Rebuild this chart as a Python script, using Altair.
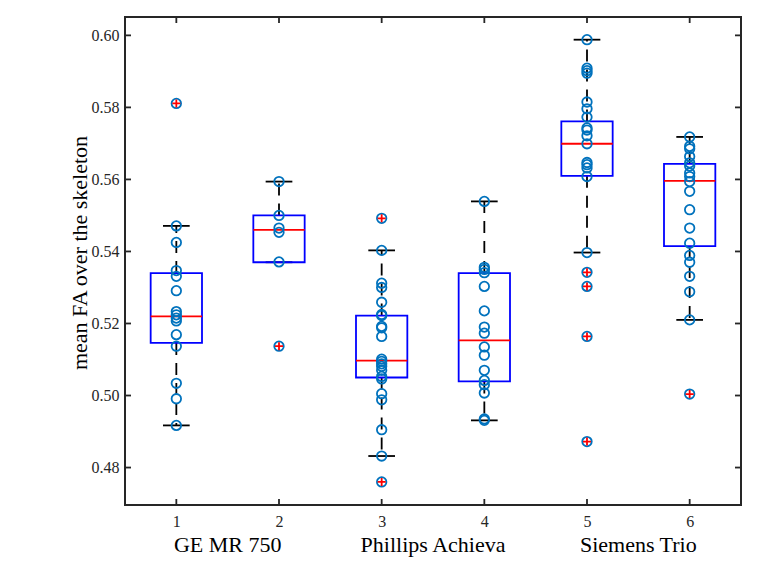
import altair as alt
import pandas as pd

# ---- data ----
positions = [1, 2, 3, 4, 5, 6]
g1 = [0.5811, 0.5471, 0.5425, 0.5347, 0.5331, 0.5291, 0.5233, 0.5224, 0.5215, 0.5207, 0.5169, 0.5137, 0.5034, 0.4991, 0.4917]
g2 = [0.5594, 0.5500, 0.5465, 0.5453, 0.5371, 0.5137]
g3 = [0.5492, 0.5403, 0.5312, 0.5300, 0.5259, 0.5225, 0.5222, 0.5192, 0.5188, 0.5164, 0.5101, 0.5095, 0.5088, 0.5081, 0.5070, 0.5053, 0.5046, 0.5005, 0.4988, 0.4905, 0.4832, 0.4760]
g4 = [0.5539, 0.5356, 0.5350, 0.5341, 0.5303, 0.5235, 0.5190, 0.5173, 0.5135, 0.5112, 0.5070, 0.5042, 0.5030, 0.5007, 0.4935, 0.4931]
g5 = [0.5988, 0.5909, 0.5902, 0.5895, 0.5815, 0.5796, 0.5773, 0.5743, 0.5737, 0.5721, 0.5699, 0.5647, 0.5641, 0.5632, 0.5608, 0.5397, 0.5342, 0.5303, 0.5164, 0.4872]
g6 = [0.5718, 0.5692, 0.5685, 0.5664, 0.5646, 0.5637, 0.5618, 0.5608, 0.5594, 0.5567, 0.5516, 0.5465, 0.5423, 0.5389, 0.5370, 0.5331, 0.5288, 0.5210, 0.5004]

q1 = [0.5146, 0.5370, 0.5050, 0.5039, 0.5610, 0.5415]
median = [0.5220, 0.5460, 0.5097, 0.5153, 0.5699, 0.5596]
q3 = [0.5340, 0.5500, 0.5222, 0.5340, 0.5761, 0.5643]
whisker_low = [0.4917, 0.5370, 0.4832, 0.4931, 0.5397, 0.5210]
whisker_high = [0.5471, 0.5594, 0.5403, 0.5539, 0.5988, 0.5718]

outlier_group = [1, 2, 3, 3, 5, 5, 5, 5, 6]
outlier_value = [0.5811, 0.5137, 0.5492, 0.4760, 0.5342, 0.5303, 0.5164, 0.4872, 0.5004]

x_ticks = [1, 2, 3, 4, 5, 6]
y_ticks = [0.48, 0.50, 0.52, 0.54, 0.56, 0.58, 0.60]

scanner_names = ["GE MR 750", "Phillips Achieva", "Siemens Trio"]
scanner_centers = [1.5, 3.5, 5.5]
y_title = "mean FA over the skeleton"

# ---- layout ----
W, H = 616, 488
FONT = "Liberation Serif"
BOX_HALF = 0.25
CAP_HALF = 0.13

groups = [g1, g2, g3, g4, g5, g6]
pts = pd.DataFrame([{"pos": p, "v": v} for p, g in zip(positions, groups) for v in g])
box = pd.DataFrame({"pos": positions, "q1": q1, "med": median, "q3": q3,
                    "lo": whisker_low, "hi": whisker_high})
box["left"] = box["pos"] - BOX_HALF
box["right"] = box["pos"] + BOX_HALF
box["capl"] = box["pos"] - CAP_HALF
box["capr"] = box["pos"] + CAP_HALF
outs = pd.DataFrame({"pos": outlier_group, "v": outlier_value})
labels = pd.DataFrame({"x": scanner_centers, "t": scanner_names})
xt = pd.DataFrame({"v": x_ticks})
yt = pd.DataFrame({"v": y_ticks})

xs = alt.Scale(domain=[0.5, 6.5], nice=False, zero=False)
ys = alt.Scale(domain=[0.4696, 0.6051], nice=False, zero=False)
XA = alt.Axis(values=x_ticks, title=None, grid=False, domain=False, ticks=False,
              labelFont=FONT, labelFontSize=16, labelColor="#262626", labelPadding=8, format="d")
YA = alt.Axis(values=y_ticks, title=None, grid=False, domain=False, ticks=False,
              labelFont=FONT, labelFontSize=16, labelColor="#262626", labelPadding=6, format=".2f")


def X(f):
    return alt.X(f, type="quantitative", scale=xs, axis=XA)


def Y(f):
    return alt.Y(f, type="quantitative", scale=ys, axis=YA)


whisk_hi = alt.Chart(box).mark_rule(color="black", strokeWidth=1.8, strokeDash=[12, 8]).encode(
    x=X("pos"), y=Y("q3"), y2="hi")
whisk_lo = alt.Chart(box).mark_rule(color="black", strokeWidth=1.8, strokeDash=[12, 8]).encode(
    x=X("pos"), y=Y("q1"), y2="lo")
cap_hi = alt.Chart(box).mark_rule(color="black", strokeWidth=1.8).encode(
    x=X("capl"), x2="capr", y=Y("hi"))
cap_lo = alt.Chart(box).mark_rule(color="black", strokeWidth=1.8).encode(
    x=X("capl"), x2="capr", y=Y("lo"))
boxes = alt.Chart(box).mark_rect(fill=None, fillOpacity=0, stroke="#0000FF", strokeWidth=1.8).encode(
    x=X("left"), x2="right", y=Y("q1"), y2="q3")
meds = alt.Chart(box).mark_rule(color="#FF0000", strokeWidth=1.8).encode(
    x=X("left"), x2="right", y=Y("med"))
circles = alt.Chart(pts).mark_point(shape="circle", filled=False, size=90, strokeWidth=1.8,
                                    color="#0072BD", opacity=1).encode(x=X("pos"), y=Y("v"))
pluses = alt.Chart(outs).mark_point(shape="M-1,0L1,0M0,-1L0,1", filled=False, size=64,
                                    strokeWidth=1.8, color="#FF0000", opacity=1).encode(x=X("pos"), y=Y("v"))

tick_style = dict(color="#262626", strokeWidth=1.8)
tl = alt.Chart(yt).mark_rule(**tick_style).encode(y=Y("v"), x=alt.value(0), x2=alt.value(6))
tr = alt.Chart(yt).mark_rule(**tick_style).encode(y=Y("v"), x=alt.value(W - 6), x2=alt.value(W))
tt = alt.Chart(xt).mark_rule(**tick_style).encode(x=X("v"), y=alt.value(0), y2=alt.value(6))
tb = alt.Chart(xt).mark_rule(**tick_style).encode(x=X("v"), y=alt.value(H - 6), y2=alt.value(H))

grp = alt.Chart(labels).mark_text(font=FONT, fontSize=22, color="black", baseline="alphabetic",
                                  align="center").encode(x=X("x"), y=alt.value(H + 47), text="t:N")
ytitle = alt.Chart(pd.DataFrame({"t": [y_title]})).mark_text(
    font=FONT, fontSize=22, color="black", angle=270, baseline="alphabetic", align="center"
).encode(x=alt.value(-38), y=alt.value(236), text="t:N")

chart = alt.layer(
    whisk_hi, whisk_lo, cap_hi, cap_lo, boxes, meds, circles, pluses,
    tl, tr, tt, tb, grp, ytitle
).properties(
    width=W, height=H,
    autosize=alt.AutoSizeParams(type="none"),
    padding={"left": 117, "top": 9, "right": 9, "bottom": 60},
).configure(
    background="white",
    view=alt.ViewConfig(stroke="#262626", strokeWidth=2),
)

chart.save("out.html", embed_options={"renderer": "svg", "actions": False})
